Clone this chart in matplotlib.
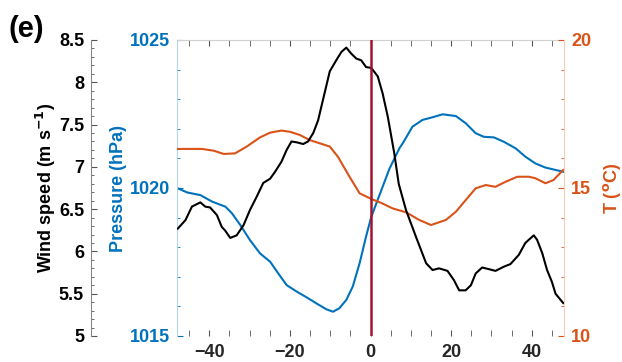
import numpy as np
import matplotlib
matplotlib.use("Agg")
import matplotlib.pyplot as plt
from matplotlib.ticker import MultipleLocator

plt.rcParams['font.family'] = ['Liberation Sans', 'DejaVu Sans']
plt.rcParams['font.weight'] = 'bold'
plt.rcParams['mathtext.default'] = 'bf'

# wind speed (m s-1)
horas_viento = [-47.8, -45.9, -44.3, -42.2, -41.0, -39.8, -38.1, -36.9, -36.1, -34.8,
                -33.2, -31.5, -29.9, -28.2, -26.6, -24.9, -23.7, -22.1, -20.8, -19.6,
                -18.3, -16.7, -15.5, -14.2, -13.0, -11.8, -10.1, -8.5, -7.2, -6.0,
                -4.8, -3.5, -2.3, -1.1, 0.2, 1.8, 3.0, 4.3, 5.9, 7.0,
                8.8, 11.3, 13.8, 15.4, 17.0, 19.1, 20.7, 22.0, 23.6, 24.9,
                26.1, 27.7, 29.4, 31.0, 33.1, 34.7, 36.8, 38.4, 40.5, 41.3,
                42.6, 43.8, 45.0, 45.9, 47.8]
viento = [6.27, 6.37, 6.53, 6.58, 6.53, 6.52, 6.43, 6.29, 6.25, 6.16,
          6.19, 6.31, 6.49, 6.65, 6.81, 6.86, 6.94, 7.06, 7.20, 7.30,
          7.29, 7.27, 7.30, 7.40, 7.55, 7.79, 8.13, 8.26, 8.36, 8.41,
          8.34, 8.28, 8.26, 8.18, 8.17, 8.07, 7.87, 7.59, 7.16, 6.80,
          6.49, 6.17, 5.86, 5.78, 5.80, 5.77, 5.66, 5.54, 5.54, 5.60,
          5.74, 5.81, 5.79, 5.77, 5.82, 5.85, 5.96, 6.10, 6.19, 6.14,
          5.98, 5.78, 5.64, 5.50, 5.39]

# pressure (hPa)
horas_presion = [-47.8, -45.5, -42.2, -39.3, -36.0, -34.4, -32.3, -29.9, -27.4, -24.9,
                 -22.9, -20.8, -18.3, -15.9, -13.4, -10.9, -9.3, -7.7, -6.0, -4.4,
                 -2.7, -1.1, 0.2, 2.2, 4.7, 7.2, 8.0, 10.4, 12.9, 15.4,
                 17.9, 21.2, 23.6, 26.1, 28.1, 30.6, 33.1, 36.0, 38.4, 40.9,
                 43.4, 45.9, 47.8]
presion = [1019.99, 1019.85, 1019.76, 1019.54, 1019.37, 1019.15, 1018.75, 1018.24, 1017.79, 1017.51,
           1017.12, 1016.72, 1016.50, 1016.31, 1016.10, 1015.90, 1015.82, 1015.94, 1016.22, 1016.67,
           1017.46, 1018.36, 1019.03, 1019.75, 1020.65, 1021.35, 1021.51, 1022.07, 1022.30, 1022.39,
           1022.49, 1022.43, 1022.19, 1021.85, 1021.73, 1021.71, 1021.56, 1021.34, 1021.06, 1020.83,
           1020.69, 1020.61, 1020.55]

# temperature (C)
horas_temp = [-47.8, -41.8, -38.9, -36.4, -33.6, -30.7, -27.4, -24.9, -22.1, -20.0,
              -17.5, -15.1, -12.6, -10.1, -8.1, -5.2, -2.7, 0.2, 2.6, 5.5,
              8.8, 12.1, 15.0, 18.7, 21.2, 23.6, 26.1, 28.6, 31.0, 33.5,
              36.4, 39.3, 40.9, 43.4, 45.4, 47.8]
temperatura = [16.32, 16.32, 16.26, 16.15, 16.17, 16.40, 16.71, 16.87, 16.94, 16.90,
               16.79, 16.62, 16.51, 16.40, 16.06, 15.38, 14.82, 14.63, 14.50, 14.31,
               14.18, 13.92, 13.75, 13.92, 14.20, 14.59, 14.99, 15.10, 15.04, 15.21,
               15.38, 15.38, 15.33, 15.16, 15.27, 15.61]

azul = '#0072BD'
naranja = '#D95319'
rojo = '#A2142F'

fig = plt.figure(figsize=(6.22, 3.62), dpi=100)
ax_p = fig.add_axes([177/622, 1-336/362, (564-177)/622, (336-40)/362])
ax_t = ax_p.twinx()
ax_w = ax_p.twinx()

ax_p.plot(horas_presion, presion, color=azul, lw=1.5)
ax_t.plot(horas_temp, temperatura, color=naranja, lw=1.5)
ax_w.plot(horas_viento, viento, color='black', lw=1.5)
ax_w.axvline(0, color=rojo, lw=1.8, zorder=5)

ax_p.set_xlim(-48, 48)
ax_p.set_ylim(1015, 1025)
ax_t.set_ylim(10, 20)
ax_w.set_ylim(5, 8.5)

# eje x
ax_p.xaxis.set_major_locator(MultipleLocator(20))
ax_p.xaxis.set_minor_locator(MultipleLocator(5))
ax_p.tick_params(axis='x', which='both', direction='in', top=True, length=4,
                 color='#555555', labelsize=13, labelcolor='#262626', pad=6)
ax_p.spines['top'].set_color('#d0d0d0')
ax_p.spines['bottom'].set_visible(False)
for a in [ax_t, ax_w]:
    a.spines['top'].set_visible(False)
    a.spines['bottom'].set_visible(False)

# eje de presion
ax_p.yaxis.set_major_locator(MultipleLocator(5))
ax_p.yaxis.set_minor_locator(MultipleLocator(1))
ax_p.tick_params(axis='y', which='both', direction='in', colors=azul, labelsize=13, pad=5)
ax_p.tick_params(axis='y', which='major', length=4)
ax_p.tick_params(axis='y', which='minor', length=2)
ax_p.spines['left'].set_color('#b3d4ec')
ax_p.spines['right'].set_visible(False)
ax_p.set_ylabel('Pressure (hPa)', color=azul, fontsize=13, fontweight='bold', labelpad=2)

# eje de temperatura
ax_t.yaxis.set_major_locator(MultipleLocator(5))
ax_t.yaxis.set_minor_locator(MultipleLocator(1))
ax_t.tick_params(axis='y', which='both', direction='in', colors=naranja, labelsize=13, pad=5)
ax_t.tick_params(axis='y', which='major', length=4)
ax_t.tick_params(axis='y', which='minor', length=2)
ax_t.spines['right'].set_color('#f5cdbb')
ax_t.spines['left'].set_visible(False)
ax_t.set_ylabel('T ($^o$C)', color=naranja, fontsize=13, fontweight='bold', labelpad=7.5)

# eje de viento, desplazado a la izquierda
ax_w.spines['left'].set_position(('axes', -86/387))
ax_w.spines['left'].set_visible(True)
ax_w.spines['left'].set_color('#888888')
ax_w.spines['right'].set_visible(False)
ax_w.yaxis.set_ticks_position('left')
ax_w.yaxis.set_label_position('left')
ax_w.yaxis.set_major_locator(MultipleLocator(0.5))
ax_w.yaxis.set_minor_locator(MultipleLocator(0.1))
ax_w.tick_params(axis='y', which='both', direction='in', labelsize=13, pad=5,
                 color='#555555', labelcolor='black')
ax_w.tick_params(axis='y', which='major', length=4)
ax_w.tick_params(axis='y', which='minor', length=2)
ax_w.set_yticks([5, 5.5, 6, 6.5, 7, 7.5, 8, 8.5])
ax_w.set_yticklabels(['5', '5.5', '6', '6.5', '7', '7.5', '8', '8.5'])
ax_w.set_ylabel('Wind speed (m s$^{-1}$)', fontsize=13, fontweight='bold', labelpad=0.5)

fig.text(8/622, 1-29/362, '(e)', fontsize=21, fontweight='bold', va='center', ha='left')

fig.savefig('out.png', dpi=100)
